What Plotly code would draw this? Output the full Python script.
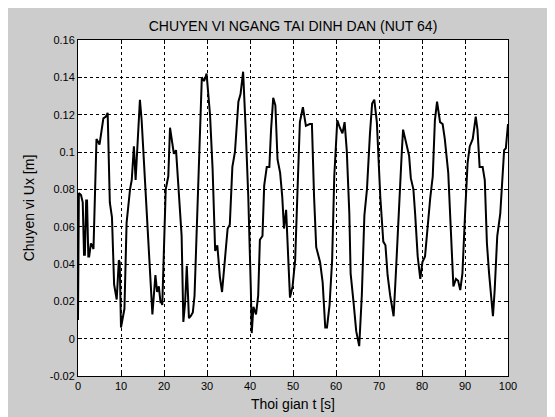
import plotly.graph_objects as go

title_text = "CHUYEN VI NGANG TAI DINH DAN (NUT 64)"
x_title = "Thoi gian t [s]"
y_title = "Chuyen vi Ux [m]"

x_ticks = [0, 10, 20, 30, 40, 50, 60, 70, 80, 90, 100]
y_ticks = [-0.02, 0, 0.02, 0.04, 0.06, 0.08, 0.1, 0.12, 0.14, 0.16]
y_ticklabels = ["-0.02", "0", "0.02", "0.04", "0.06", "0.08", "0.1", "0.12", "0.14", "0.16"]

t = [
    0, 0.2, 0.7, 1.1, 1.4, 1.6, 1.9, 2.1, 2.4, 2.6, 3.0, 3.3, 3.6, 4.3, 5.0, 5.9, 6.5, 6.9, 7.4, 7.9, 8.4, 9.0, 9.5, 9.7,
    10.0, 10.4, 10.8, 11.3, 12.1, 12.5, 13.0, 13.4, 14.4, 14.8, 15.3, 16.1, 16.7, 17.3, 18.0, 18.4, 18.8, 19.2, 19.4, 19.6,
    20.4, 21.0, 21.4, 21.9, 22.3, 22.8, 23.6, 24.1, 24.5, 24.9, 25.3, 25.8, 26.2, 26.7, 27.1, 27.6, 28.2, 28.8, 29.3, 29.5, 29.9,
    30.7, 31.3, 31.9, 32.4, 33.0, 33.5, 34.2, 34.8, 35.3, 35.9, 36.5, 37.3, 37.8, 38.4, 39.0, 39.6,
    40.2, 40.4, 40.8, 41.4, 41.9, 42.3, 42.9, 43.3, 43.9, 44.5, 44.9, 45.4, 45.9, 46.4, 47.0, 47.5, 47.9, 48.4, 48.8, 49.3, 49.9,
    50.5, 51.0, 51.6, 52.3, 53.0, 53.9, 54.4, 54.9, 55.4, 56.3, 56.9, 57.5, 57.9, 58.5, 59.1, 59.6,
    60.3, 60.9, 61.5, 62.0, 62.5, 63.1, 63.4, 64.1, 64.7, 65.4, 66.0, 66.6, 67.2, 67.9, 68.4, 68.9, 69.5,
    70.3, 71.0, 71.5, 72.0, 72.6, 73.4, 73.9, 74.7, 75.3, 75.6, 76.3, 77.0, 77.4, 78.0, 78.4, 79.0, 79.6,
    80.1, 80.7, 81.3, 81.9, 82.5, 83.0, 83.5, 84.2, 84.8, 85.3, 86.1, 86.7, 87.3, 87.9, 88.4, 88.9, 89.4,
    90.0, 90.6, 91.1, 91.8, 92.5, 92.9, 93.4, 94.1, 94.6, 95.1, 95.6, 96.0, 96.5, 96.9, 97.5, 98.2, 98.8, 99.1, 99.5, 100.0,
]

ux = [
    0.01, 0.078, 0.077, 0.073, 0.045, 0.045, 0.074, 0.074, 0.044, 0.044, 0.051, 0.050, 0.048, 0.107, 0.104, 0.118, 0.119, 0.121, 0.073, 0.065, 0.029, 0.021, 0.042, 0.041,
    0.006, 0.012, 0.016, 0.062, 0.080, 0.085, 0.103, 0.085, 0.128, 0.117, 0.097, 0.064, 0.039, 0.013, 0.034, 0.025, 0.028, 0.019, 0.020, 0.018,
    0.080, 0.087, 0.113, 0.105, 0.099, 0.101, 0.073, 0.055, 0.009, 0.019, 0.039, 0.011, 0.012, 0.014, 0.023, 0.058, 0.107, 0.140, 0.138, 0.139, 0.142,
    0.120, 0.091, 0.047, 0.050, 0.033, 0.025, 0.045, 0.059, 0.061, 0.092, 0.100, 0.127, 0.131, 0.143, 0.112, 0.076,
    0.026, 0.003, 0.017, 0.013, 0.023, 0.053, 0.055, 0.082, 0.092, 0.092, 0.112, 0.129, 0.125, 0.096, 0.089, 0.076, 0.059, 0.069, 0.048, 0.022, 0.028,
    0.042, 0.076, 0.116, 0.124, 0.114, 0.115, 0.115, 0.076, 0.049, 0.041, 0.030, 0.006, 0.006, 0.018, 0.042, 0.087,
    0.117, 0.113, 0.110, 0.116, 0.101, 0.067, 0.035, 0.019, 0.004, -0.004, 0.023, 0.066, 0.080, 0.110, 0.126, 0.128, 0.116,
    0.076, 0.052, 0.050, 0.034, 0.023, 0.012, 0.034, 0.076, 0.100, 0.112, 0.105, 0.098, 0.086, 0.080, 0.067, 0.044, 0.032,
    0.041, 0.044, 0.062, 0.075, 0.087, 0.117, 0.127, 0.116, 0.115, 0.107, 0.089, 0.059, 0.028, 0.032, 0.031, 0.026, 0.035,
    0.066, 0.094, 0.103, 0.107, 0.119, 0.112, 0.092, 0.092, 0.085, 0.051, 0.035, 0.025, 0.012, 0.026, 0.055, 0.067, 0.094, 0.101, 0.102, 0.115,
]

FONT = "Arial, 'Liberation Sans', sans-serif"

fig = go.Figure()
fig.add_trace(go.Scatter(x=t, y=ux, mode="lines",
                         line=dict(color="black", width=2), showlegend=False))

# page body has an 8px margin, so the figure is 8px smaller than the window
W, H = 547, 409
L, R, T, B = 70, 47, 32, 41

fig.update_layout(
    width=W, height=H,
    margin=dict(l=L, r=R, t=T, b=B),
    paper_bgcolor="#cccccc",
    plot_bgcolor="white",
    font=dict(family=FONT, size=11, color="black"),
    title=dict(text=title_text, x=(L + (W - L - R) / 2) / W, xanchor="center",
               y=1 - 18.5 / H, yanchor="middle", yref="container",
               font=dict(family=FONT, size=14, color="black")),
    xaxis=dict(range=[0, 100], tickvals=x_ticks, ticks="inside", ticklen=4,
               tickcolor="black", showline=True, linecolor="black", linewidth=1,
               mirror="ticks", showgrid=True, gridcolor="black", griddash="dot",
               gridwidth=1, zeroline=False, automargin=False,
               title=dict(text=x_title, standoff=7, font=dict(size=14))),
    yaxis=dict(range=[-0.02, 0.16], tickvals=y_ticks, ticktext=y_ticklabels,
               ticks="inside", ticklen=4, tickcolor="black", showline=True,
               linecolor="black", linewidth=1, mirror="ticks", showgrid=True,
               gridcolor="black", griddash="dot", gridwidth=1, zeroline=False,
               automargin=False,
               title=dict(text=y_title, standoff=11, font=dict(size=14))),
)

fig.write_html("out.html")
